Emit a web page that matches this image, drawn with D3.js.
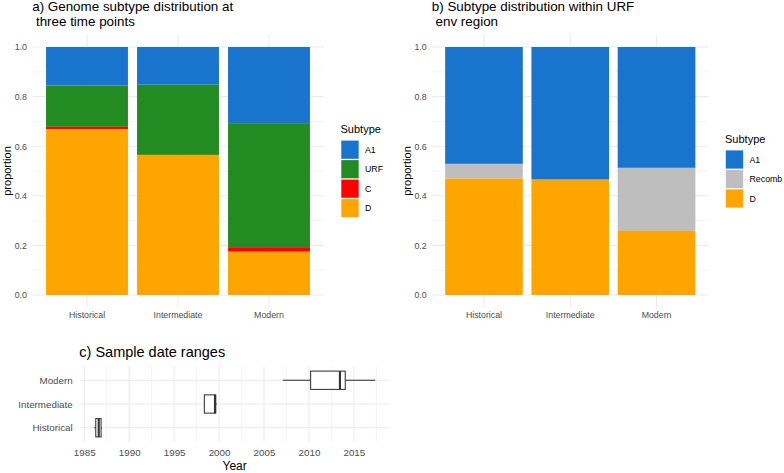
<!DOCTYPE html>
<html>
<head>
<meta charset="utf-8">
<script src="https://cdn.jsdelivr.net/npm/d3@7"></script>
<style>
  html, body { margin: 0; padding: 0; background: #fff; }
  svg { display: block; }
  text { font-family: "Liberation Sans", Arial, sans-serif; }
</style>
</head>
<body>
<svg id="chart" width="784" height="473"></svg>
<script>
// ---------- data ----------
const timepoints = ["Historical", "Intermediate", "Modern"];

// panel a: genome subtype proportions
const genomeLegend = ["A1", "URF", "C", "D"];
const genomeD   = [0.669, 0.565, 0.175];
const genomeC   = [0.009, 0.000, 0.018];
const genomeURF = [0.167, 0.283, 0.500];
const genomeA1  = [0.155, 0.152, 0.307];

// panel b: subtype within URF env region
const envLegend = ["A1", "Recomb", "D"];
const envD      = [0.470, 0.466, 0.258];
const envRecomb = [0.059, 0.000, 0.255];
const envA1     = [0.471, 0.534, 0.487];

const yTicks = [0, 0.2, 0.4, 0.6, 0.8, 1.0];
const yMinor = [0.1, 0.3, 0.5, 0.7, 0.9];

// panel c: sample date ranges (boxplot stats)
const boxGroups   = ["Historical", "Intermediate", "Modern"];
const whiskerLow  = [1986.09, 1998.36, 2007.08];
const q1          = [1986.28, 1998.36, 2010.19];
const median      = [1986.61, 1999.55, 2013.45];
const q3          = [1986.87, 1999.63, 2014.04];
const whiskerHigh = [1986.98, 1999.75, 2017.38];
const yearTicks = [1985, 1990, 1995, 2000, 2005, 2010, 2015];
const yearMinor = [1987.5, 1992.5, 1997.5, 2002.5, 2007.5, 2012.5, 2017.5];

const colors = { A1: "#1874CD", URF: "#228B22", C: "#FF0000", D: "#FFA500", Recomb: "#BEBEBE" };

// ---------- helpers ----------
const svg = d3.select("#chart");
const GRID = "#EBEBEB";
const TXT = "#4D4D4D";

function styleAxis(g, size) {
  g.select(".domain").remove();
  g.selectAll("line").remove();
  g.selectAll("text").attr("fill", TXT).style("font-size", size + "px")
    .style("font-family", "'Liberation Sans', Arial, sans-serif");
  g.attr("font-family", null).attr("font-size", null);
}

function stackedPanel(cfg) {
  const { left, right, keys, rows, legend, legendX, legendTitleY, keyTop, titleLines, titleX } = cfg;
  const top = 34.6, bottom = 307.4;
  const x = d3.scaleBand().domain(timepoints).range([left, right]).paddingInner(0.1).paddingOuter(0.15);
  const y = d3.scaleLinear().domain([-0.05, 1.05]).range([bottom, top]);
  const g = svg.append("g");

  // grid
  g.selectAll(".minor").data(yMinor).join("line")
    .attr("x1", left).attr("x2", right).attr("y1", d => y(d)).attr("y2", d => y(d))
    .attr("stroke", GRID).attr("stroke-width", 0.55);
  g.selectAll(".major").data(yTicks).join("line")
    .attr("x1", left).attr("x2", right).attr("y1", d => y(d)).attr("y2", d => y(d))
    .attr("stroke", GRID).attr("stroke-width", 1.1);
  g.selectAll(".vmajor").data(timepoints).join("line")
    .attr("x1", d => x(d) + x.bandwidth() / 2).attr("x2", d => x(d) + x.bandwidth() / 2)
    .attr("y1", top).attr("y2", bottom)
    .attr("stroke", GRID).attr("stroke-width", 1.1);

  // bars
  const series = d3.stack().keys(keys)(rows);
  series.forEach(s => {
    g.append("g").selectAll("rect").data(s).join("rect")
      .attr("x", d => x(d.data.time)).attr("width", x.bandwidth())
      .attr("y", d => y(d[1])).attr("height", d => Math.max(0, y(d[0]) - y(d[1])))
      .attr("fill", colors[s.key]);
  });

  // axes
  const ay = g.append("g").attr("transform", `translate(${left},0)`)
    .call(d3.axisLeft(y).tickValues(yTicks).tickSize(0).tickPadding(5.5).tickFormat(d3.format(".1f")));
  styleAxis(ay, 8.8);
  const ax = g.append("g").attr("transform", `translate(0,${bottom})`)
    .call(d3.axisBottom(x).tickSize(0).tickPadding(4.8));
  styleAxis(ax, 8.8);

  // y title
  g.append("text").attr("transform", `translate(${left - 21.5},${(top + bottom) / 2}) rotate(-90)`)
    .attr("text-anchor", "middle").style("font-size", "11px").attr("fill", "#000").text("proportion");

  // title
  const t = g.append("text").attr("x", titleX).attr("y", 10.8).style("font-size", "13.4px")
    .style("white-space", "pre").attr("fill", "#000");
  titleLines.forEach((line, i) => {
    t.append("tspan").attr("x", titleX).attr("dy", i === 0 ? 0 : 14.9).text(line);
  });

  // legend
  const lg = g.append("g");
  lg.append("text").attr("x", legendX).attr("y", legendTitleY).style("font-size", "11px").attr("fill", "#000").text("Subtype");
  legend.forEach((k, i) => {
    const ky = keyTop + i * 19.5;
    lg.append("rect").attr("x", legendX + 0.8).attr("y", ky).attr("width", 17.4).attr("height", 18.2).attr("fill", colors[k]);
    lg.append("text").attr("x", legendX + 24.5).attr("y", ky + 9.1).attr("dy", "0.35em")
      .style("font-size", "8.8px").attr("fill", "#000").text(k);
  });
}

// ---------- panel a ----------
const genomeRows = timepoints.map((t, i) => ({ time: t, D: genomeD[i], C: genomeC[i], URF: genomeURF[i], A1: genomeA1[i] }));
stackedPanel({
  left: 32.4, right: 323.6, keys: ["D", "C", "URF", "A1"], rows: genomeRows,
  legend: genomeLegend, legendX: 340.5, legendTitleY: 132.8, keyTop: 140.6,
  titleLines: ["a) Genome subtype distribution at", " three time points"], titleX: 32.2
});

// ---------- panel b ----------
const envRows = timepoints.map((t, i) => ({ time: t, D: envD[i], Recomb: envRecomb[i], A1: envA1[i] }));
stackedPanel({
  left: 432.2, right: 708.3, keys: ["D", "Recomb", "A1"], rows: envRows,
  legend: envLegend, legendX: 725, legendTitleY: 142.8, keyTop: 150.4,
  titleLines: ["b) Subtype distribution within URF", " env region"], titleX: 431.8
});

// ---------- panel c ----------
(function () {
  const left = 80, right = 389.3, top = 366, bottom = 442;
  const lo = d3.min(whiskerLow), hi = d3.max(whiskerHigh), pad = (hi - lo) * 0.05;
  const x = d3.scaleLinear().domain([lo - pad, hi + pad]).range([left, right]);
  const y = d3.scalePoint().domain(["Modern", "Intermediate", "Historical"]).range([top, bottom]).padding(0.6);
  const g = svg.append("g");

  g.selectAll(".vminor").data(yearMinor).join("line")
    .attr("x1", d => x(d)).attr("x2", d => x(d)).attr("y1", top).attr("y2", bottom)
    .attr("stroke", GRID).attr("stroke-width", 0.55);
  g.selectAll(".vmajor").data(yearTicks).join("line")
    .attr("x1", d => x(d)).attr("x2", d => x(d)).attr("y1", top).attr("y2", bottom)
    .attr("stroke", GRID).attr("stroke-width", 1.1);
  g.selectAll(".hmajor").data(boxGroups).join("line")
    .attr("x1", left).attr("x2", right).attr("y1", d => y(d)).attr("y2", d => y(d))
    .attr("stroke", GRID).attr("stroke-width", 1.1);

  const bh = 18.3;
  const BOX = "#333333";
  boxGroups.forEach((grp, i) => {
    const cy = y(grp);
    g.append("line").attr("x1", x(whiskerLow[i])).attr("x2", x(q1[i])).attr("y1", cy).attr("y2", cy)
      .attr("stroke", BOX).attr("stroke-width", 1.05);
    g.append("line").attr("x1", x(q3[i])).attr("x2", x(whiskerHigh[i])).attr("y1", cy).attr("y2", cy)
      .attr("stroke", BOX).attr("stroke-width", 1.05);
    g.append("rect").attr("x", x(q1[i])).attr("y", cy - bh / 2)
      .attr("width", x(q3[i]) - x(q1[i])).attr("height", bh)
      .attr("fill", "#fff").attr("stroke", BOX).attr("stroke-width", 1.05);
    g.append("line").attr("x1", x(median[i])).attr("x2", x(median[i])).attr("y1", cy - bh / 2).attr("y2", cy + bh / 2)
      .attr("stroke", BOX).attr("stroke-width", 2.1);
  });

  const ay = g.append("g").attr("transform", `translate(${left},0)`)
    .call(d3.axisLeft(y).tickSize(0).tickPadding(7.3));
  styleAxis(ay, 9.8);
  const ax = g.append("g").attr("transform", `translate(0,${bottom})`)
    .call(d3.axisBottom(x).tickValues(yearTicks).tickSize(0).tickPadding(6.6).tickFormat(d3.format("d")));
  styleAxis(ax, 9.8);

  g.append("text").attr("x", (left + right) / 2).attr("y", 469.7).attr("text-anchor", "middle")
    .style("font-size", "12px").attr("fill", "#000").text("Year");
  g.append("text").attr("x", 79.3).attr("y", 356.8).style("font-size", "14.5px").attr("fill", "#000")
    .text("c) Sample date ranges");
})();
</script>
</body>
</html>
